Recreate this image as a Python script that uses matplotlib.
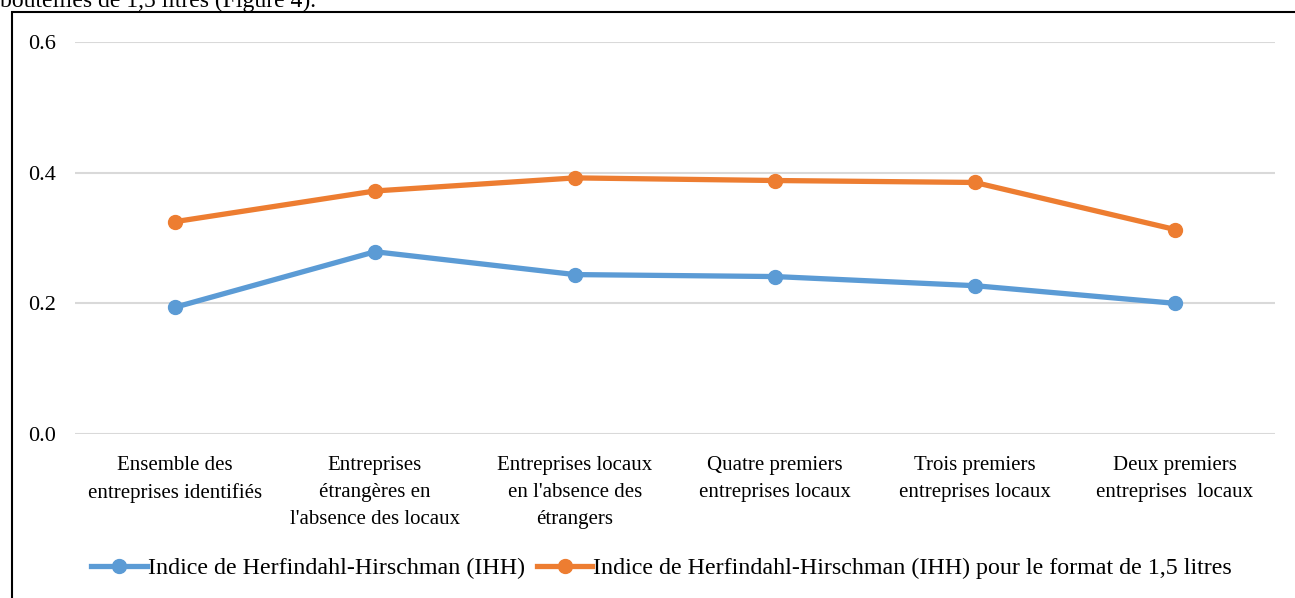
import matplotlib
matplotlib.use('Agg')
import matplotlib.pyplot as plt
from matplotlib.patches import Rectangle

plt.rcParams['font.family'] = ['Liberation Serif', 'DejaVu Serif']

# Catégories et valeurs
categories = [
    "Ensemble des\nentreprises identifiés",
    "Entreprises\nétrangères en\nl'absence des locaux",
    "Entreprises locaux\nen l'absence des\nétrangers",
    "Quatre premiers\nentreprises locaux",
    "Trois premiers\nentreprises locaux",
    "Deux premiers\nentreprises  locaux",
]
ihh = [0.194, 0.279, 0.244, 0.241, 0.227, 0.200]
ihh_15 = [0.325, 0.372, 0.392, 0.388, 0.385, 0.313]
yticks = [0.0, 0.2, 0.4, 0.6]

blue = '#5B9BD5'
orange = '#ED7D31'

fig = plt.figure(figsize=(12.95, 5.98), dpi=100)
ax = fig.add_axes([75 / 1295, 1 - 434 / 598, 1200 / 1295, (434 - 42) / 598])

x = list(range(len(categories)))
ax.plot(x, ihh, color=blue, lw=3.8, marker='o', ms=10,
        label="Indice de Herfindahl-Hirschman (IHH)")
ax.plot(x, ihh_15, color=orange, lw=3.8, marker='o', ms=10,
        label="Indice de Herfindahl-Hirschman (IHH) pour le format de 1,5 litres")

ax.set_xlim(-0.5, len(categories) - 0.5)
ax.set_ylim(0, 0.6)
ax.set_yticks(yticks)
ax.set_yticklabels([f"{v:.1f}" for v in yticks], fontsize=16)
ax.set_xticks(x)
ax.set_xticklabels(categories, fontsize=15, linespacing=1.55, va='top')
ax.grid(axis='y', color='#D9D9D9', lw=1.5)
ax.set_axisbelow(True)
for s in ax.spines.values():
    s.set_visible(False)
ax.tick_params(length=0)
ax.tick_params(axis='y', pad=14)
ax.tick_params(axis='x', pad=16)

leg = ax.legend(loc='center', bbox_to_anchor=(0.489, (434 - 568) / 392.0),
                ncol=2, frameon=False, fontsize=17.3, handlelength=2.3,
                columnspacing=0.5, handletextpad=0.05)

# cadre du graphique (coupé à droite et en bas)
fig.patches.append(Rectangle((12 / 1295, -0.1), 1.2, 1 - 12 / 598 + 0.1,
                             transform=fig.transFigure, fill=False,
                             edgecolor='black', lw=1.5))

# texte du document coupé en haut
fig.text(0.0, 1 - 1 / 598, "bouteilles de 1,5 litres (Figure 4).", fontsize=17,
         va='center', ha='left')

fig.savefig('out.png', dpi=100)
